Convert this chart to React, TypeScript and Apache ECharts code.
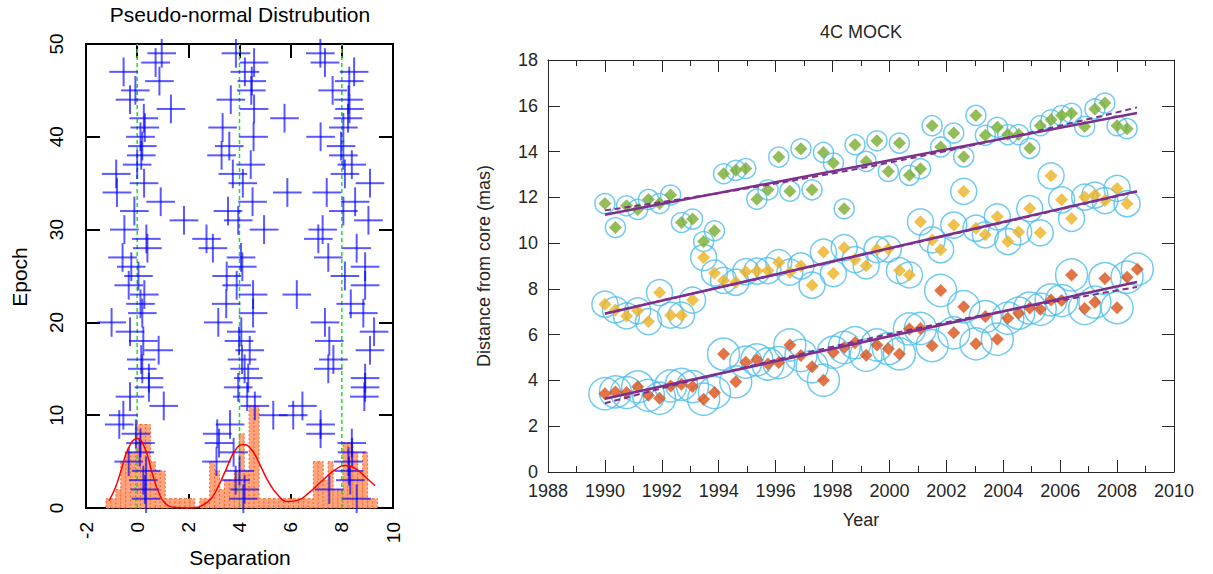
import React, { useEffect, useRef } from 'react';
import * as echarts from 'echarts';

// ---------------- Left panel: pseudo-normal distribution ----------------
const epochs = [1, 2, 3, 4, 5, 6, 7, 8, 9, 10, 11, 12, 13, 14, 15, 16, 17, 18, 19, 20, 21, 22, 23, 24, 25, 26, 27, 28, 29, 30, 31, 32, 33, 34, 35, 36, 37, 38, 39, 40, 41, 42, 43, 44, 45, 46, 47, 48, 49];
const sepNear0 = [0.35, 0.3, 0.24, 0.35, -0.33, 0.1, 0.13, -0.05, -0.7, -0.54, 1.04, -0.28, 0.46, 0.46, 0.2, 0.16, 0.84, 0.24, -0.28, -1.0, 0.2, 0.13, 0.28, -0.33, 0.05, -0.23, -0.57, 0.4, 0.36, -0.5, 1.83, -0.11, 0.92, -0.79, 0.27, -0.82, 0.0, 0.16, 0.2, 0.13, 0.3, 0.26, 1.32, -0.28, -0.07, 0.87, -0.53, 0.72, 0.96];
const sepNear4 = [4.15, 4.2, 3.85, 4.0, 3.1, 3.77, 3.2, 3.13, 3.63, 5.32, 4.6, 4.3, 3.95, 4.34, 4.2, 4.1, 4.4, 3.98, 4.07, 3.17, 4.53, 3.48, 4.53, 3.89, 3.5, 4.11, 4.06, 2.96, 2.71, 4.96, 3.95, 3.55, 4.51, 5.87, 4.13, 3.74, 4.44, 3.3, 3.6, 4.55, 3.34, 5.76, 4.57, 3.66, 4.46, 4.48, 4.21, 4.57, 3.86];
const sepNear8 = [8.58, 7.51, 8.33, 8.28, 8.26, 8.4, 8.39, 7.17, 7.17, 6.1, 6.46, 8.88, 8.91, 8.91, 7.47, 7.67, 9.1, 7.51, 9.26, 7.34, 8.84, 8.35, 6.24, 8.91, 8.12, 8.91, 7.47, 8.58, 7.08, 7.25, 9.04, 8.06, 8.52, 7.41, 9.1, 8.12, 8.39, 8.06, 7.97, 7.17, 8.06, 8.24, 8.3, 8.26, 7.64, 8.29, 8.48, 7.34, 7.16];
const sepErr = 0.56;
const epochErr = 1.55;

const histStart = -1.22;
const histBinWidth = 0.193;
const histCounts = [1, 1, 2, 5, 6, 6, 9, 9, 9, 5, 4, 4, 1, 1, 1, 1, 1, 1, 0, 1, 1, 5, 4, 2, 3, 3, 4, 8, 4, 11, 11, 1, 1, 1, 1, 1, 1, 1, 1, 1, 1, 1, 5, 5, 3, 5, 2, 2, 7, 7, 6, 4, 6, 1, 1];

const fitSep = [-1.1, -0.85, -0.6, -0.35, 0.0, 0.3, 0.57, 0.83, 1.1, 1.5, 2.0, 2.3, 2.55, 2.9, 3.2, 3.45, 3.83, 4.15, 4.48, 4.8, 5.13, 5.52, 5.9, 6.3, 6.7, 7.2, 7.73, 8.12, 8.5, 8.9, 9.3];
const fitCount = [0.8, 2.2, 4.3, 6.4, 7.5, 6.45, 3.9, 1.75, 0.5, 0.05, 0.0, 0.05, 0.3, 1.05, 2.5, 4.0, 6.2, 6.85, 6.25, 4.65, 2.85, 1.35, 0.7, 0.85, 1.6, 2.85, 4.1, 4.57, 4.3, 3.4, 2.4];
const peakCentres = [0, 4, 8];

// ---------------- Right panel: 4C MOCK ----------------
const obsYears = [1990.0, 1990.37, 1990.76, 1991.15, 1991.53, 1991.92, 1992.31, 1992.69, 1993.08, 1993.47, 1993.85, 1994.17, 1994.6, 1994.95, 1995.34, 1995.73, 1996.11, 1996.5, 1996.89, 1997.28, 1997.68, 1998.03, 1998.41, 1998.79, 1999.18, 1999.56, 1999.96, 2000.35, 2000.7, 2001.09, 2001.5, 2001.8, 2002.26, 2002.61, 2003.04, 2003.37, 2003.79, 2004.16, 2004.54, 2004.93, 2005.3, 2005.68, 2006.05, 2006.4, 2006.86, 2007.22, 2007.57, 2008.0, 2008.35, 2008.71];
const greenDist = [11.73, 10.68, 11.63, 11.47, 11.91, 11.73, 12.1, 10.9, 11.05, 10.07, 10.54, 13.03, 13.18, 13.26, 11.92, 12.33, 13.76, 12.27, 14.12, 12.33, 13.96, 13.5, 11.5, 14.3, 13.57, 14.47, 13.13, 14.37, 12.96, 13.25, 15.13, 14.2, 14.81, 13.77, 15.58, 14.71, 15.06, 14.74, 14.74, 14.14, 15.13, 15.39, 15.57, 15.67, 15.1, 15.86, 16.12, 15.13, 15.0];
const yellowDist = [7.33, 7.08, 6.82, 7.04, 6.57, 7.84, 6.85, 6.85, 7.51, 9.37, 8.69, 8.37, 8.29, 8.75, 8.78, 8.8, 9.15, 8.73, 9.0, 8.16, 9.61, 8.67, 9.8, 9.28, 9.01, 9.72, 9.74, 8.8, 8.61, 10.93, 10.14, 9.71, 10.79, 12.26, 10.65, 10.36, 11.15, 10.07, 10.49, 11.51, 10.45, 12.94, 11.89, 11.08, 12.01, 12.1, 11.86, 12.39, 11.72];
const redDist = [3.42, 3.5, 3.47, 3.72, 3.35, 3.22, 3.76, 3.83, 3.73, 3.18, 3.47, 5.15, 3.94, 4.8, 4.9, 4.72, 4.78, 5.55, 5.09, 4.6, 4.01, 5.23, 5.44, 5.65, 5.1, 5.55, 5.39, 5.16, 6.25, 6.27, 5.52, 7.93, 6.08, 7.22, 5.6, 6.79, 5.8, 6.72, 6.94, 7.16, 7.11, 7.52, 7.49, 8.61, 7.14, 7.42, 8.45, 7.18, 8.51, 8.86];

const linFitYears = [1990, 2008.7];
const greenLinear = [11.24, 15.68];
const yellowLinear = [6.91, 12.27];
const redLinear = [3.2, 8.3];
const quadFitYears = [1990, 1999.35, 2008.7];
const greenQuad = [11.43, 13.36, 15.93];
const yellowQuad = [6.93, 9.57, 12.25];
const redQuad = [3.0, 5.85, 8.08];

const FONT = "'Liberation Sans', Arial, Helvetica, sans-serif";
const DARK = '#262626';

function pairs(xs: number[], ys: number[]) {
  return ys.map((y, i) => [xs[i], y]);
}

export default function App() {
  const ref = useRef<HTMLDivElement>(null);

  useEffect(() => {
    if (!ref.current) return;
    const chart = echarts.init(ref.current, undefined, { renderer: 'svg' });

    const crossData: number[][] = [];
    epochs.forEach((e, i) => {
      crossData.push([sepNear0[i], e]);
      crossData.push([sepNear4[i], e]);
      crossData.push([sepNear8[i], e]);
    });
    const histData = histCounts
      .map((c, k) => [histStart + k * histBinWidth, histStart + (k + 1) * histBinWidth, c])
      .filter((d) => d[2] > 0);

    const plain = (v: number) => String(v);

    const leftTick = { inside: true, length: 14, lineStyle: { color: '#000', width: 2 } };
    const leftLine = { show: true, onZero: false, lineStyle: { color: '#000', width: 2 } };
    const leftLabel = { rotate: 90, fontSize: 19, color: '#000', fontFamily: FONT, formatter: plain };

    const rightTick = { inside: true, length: 12, lineStyle: { color: DARK, width: 1 } };
    const rightLine = { show: true, onZero: false, lineStyle: { color: DARK, width: 1 } };
    const rightLabel = { fontSize: 18, color: DARK, fontFamily: FONT, margin: 10, formatter: plain };
    const rightMinor = { show: true, splitNumber: 2, length: 6, lineStyle: { color: DARK, width: 1 } };

    const circleStyle = { color: 'rgba(0,0,0,0)', borderColor: '#4DBEEE', borderWidth: 1.5 };

    const groups = [
      { dist: greenDist, color: '#77AC30', diam: 20, lin: greenLinear, quad: greenQuad },
      { dist: yellowDist, color: '#EDB120', diam: 26, lin: yellowLinear, quad: yellowQuad },
      { dist: redDist, color: '#D95319', diam: 32, lin: redLinear, quad: redQuad },
    ];

    const rightSeries: any[] = [];
    groups.forEach((g) => {
      rightSeries.push({
        type: 'scatter', xAxisIndex: 2, yAxisIndex: 2, z: 2,
        symbol: 'circle', symbolSize: g.diam, itemStyle: circleStyle,
        data: pairs(obsYears, g.dist), silent: true,
      });
    });
    groups.forEach((g) => {
      rightSeries.push({
        type: 'scatter', xAxisIndex: 2, yAxisIndex: 2, z: 3,
        symbol: 'diamond', symbolSize: 13, itemStyle: { color: g.color },
        data: pairs(obsYears, g.dist), silent: true,
      });
    });
    groups.forEach((g) => {
      rightSeries.push({
        type: 'line', xAxisIndex: 2, yAxisIndex: 2, z: 4, symbol: 'none',
        lineStyle: { color: '#7E2F8E', width: 2, type: [6, 4] }, smooth: true,
        data: pairs(quadFitYears, g.quad), silent: true,
      });
      rightSeries.push({
        type: 'line', xAxisIndex: 2, yAxisIndex: 2, z: 5, symbol: 'none',
        lineStyle: { color: '#7E2F8E', width: 2.5 },
        data: pairs(linFitYears, g.lin), silent: true,
      });
    });

    const option: any = {
      animation: false,
      textStyle: { fontFamily: FONT },
      grid: [
        { left: 86, top: 44, width: 307, height: 464 },
        { left: 548, top: 60, width: 626, height: 412 },
      ],
      xAxis: [
        {
          gridIndex: 0, type: 'value', min: -2, max: 10, interval: 2, position: 'bottom',
          axisLine: leftLine, axisTick: leftTick, splitLine: { show: false },
          axisLabel: { ...leftLabel, margin: 14 },
        },
        {
          gridIndex: 0, type: 'value', min: -2, max: 10, interval: 2, position: 'top',
          axisLine: leftLine, axisTick: leftTick, splitLine: { show: false }, axisLabel: { show: false },
        },
        {
          gridIndex: 1, type: 'value', min: 1988, max: 2010, interval: 2, position: 'bottom',
          axisLine: rightLine, axisTick: rightTick, minorTick: rightMinor, splitLine: { show: false },
          axisLabel: rightLabel,
        },
        {
          gridIndex: 1, type: 'value', min: 1988, max: 2010, interval: 2, position: 'top',
          axisLine: rightLine, axisTick: rightTick, minorTick: rightMinor, splitLine: { show: false },
          axisLabel: { show: false },
        },
      ],
      yAxis: [
        {
          gridIndex: 0, type: 'value', min: 0, max: 50, interval: 10, position: 'left',
          axisLine: leftLine, axisTick: leftTick, splitLine: { show: false },
          axisLabel: { ...leftLabel, margin: 20 },
        },
        {
          gridIndex: 0, type: 'value', min: 0, max: 50, interval: 10, position: 'right',
          axisLine: leftLine, axisTick: leftTick, splitLine: { show: false }, axisLabel: { show: false },
        },
        {
          gridIndex: 1, type: 'value', min: 0, max: 18, interval: 2, position: 'left',
          axisLine: rightLine, axisTick: rightTick, splitLine: { show: false }, axisLabel: rightLabel,
        },
        {
          gridIndex: 1, type: 'value', min: 0, max: 18, interval: 2, position: 'right',
          axisLine: rightLine, axisTick: rightTick, splitLine: { show: false }, axisLabel: { show: false },
        },
      ],
      graphic: [
        { type: 'text', x: 240, y: 14, style: { text: 'Pseudo-normal Distrubution', font: `21px ${FONT}`, fill: '#000', textAlign: 'center', textVerticalAlign: 'middle' } },
        { type: 'text', x: 240, y: 557, style: { text: 'Separation', font: `21px ${FONT}`, fill: '#000', textAlign: 'center', textVerticalAlign: 'middle' } },
        { type: 'text', x: 19, y: 277, rotation: Math.PI / 2, style: { text: 'Epoch', font: `21px ${FONT}`, fill: '#000', textAlign: 'center', textVerticalAlign: 'middle' } },
        { type: 'text', x: 861, y: 32, style: { text: '4C MOCK', font: `18px ${FONT}`, fill: DARK, textAlign: 'center', textVerticalAlign: 'middle' } },
        { type: 'text', x: 861, y: 520, style: { text: 'Year', font: `18px ${FONT}`, fill: DARK, textAlign: 'center', textVerticalAlign: 'middle' } },
        { type: 'text', x: 484, y: 266, rotation: Math.PI / 2, style: { text: 'Distance from core (mas)', font: `18px ${FONT}`, fill: DARK, textAlign: 'center', textVerticalAlign: 'middle' } },
      ],
      series: [
        {
          type: 'custom', xAxisIndex: 0, yAxisIndex: 0, z: 1, silent: true,
          data: histData,
          renderItem: (params: any, api: any) => {
            const p0 = api.coord([api.value(0), 0]);
            const p1 = api.coord([api.value(1), api.value(2)]);
            return {
              type: 'rect',
              shape: { x: p0[0], y: p1[1], width: p1[0] - p0[0], height: p0[1] - p1[1] },
              style: { fill: '#FFA47C', stroke: '#F4692B', lineWidth: 1, lineDash: [2, 2] },
            };
          },
        },
        ...peakCentres.map((c) => ({
          type: 'line', xAxisIndex: 0, yAxisIndex: 0, z: 2, symbol: 'none', silent: true,
          lineStyle: { color: '#22DD22', width: 1.5, type: [4, 3] },
          data: [[c, 0], [c, 50]],
        })),
        {
          type: 'custom', xAxisIndex: 0, yAxisIndex: 0, z: 3, silent: true,
          data: crossData,
          renderItem: (params: any, api: any) => {
            const x = api.value(0);
            const y = api.value(1);
            const l = api.coord([x - sepErr, y]);
            const r = api.coord([x + sepErr, y]);
            const b = api.coord([x, y - epochErr]);
            const t = api.coord([x, y + epochErr]);
            const style = { stroke: 'rgba(0,0,255,0.65)', lineWidth: 2 };
            return {
              type: 'group',
              children: [
                { type: 'line', shape: { x1: l[0], y1: l[1], x2: r[0], y2: r[1] }, style },
                { type: 'line', shape: { x1: b[0], y1: b[1], x2: t[0], y2: t[1] }, style },
              ],
            };
          },
        },
        {
          type: 'line', xAxisIndex: 0, yAxisIndex: 0, z: 4, symbol: 'none', silent: true, smooth: true,
          lineStyle: { color: '#FF0000', width: 1.5 },
          data: pairs(fitSep, fitCount),
        },
        ...rightSeries,
      ],
    };

    chart.setOption(option);
    return () => chart.dispose();
  }, []);

  return (
    <div
      ref={ref}
      style={{ position: 'fixed', left: 0, top: 0, width: 1213, height: 574, background: '#fff' }}
    />
  );
}
